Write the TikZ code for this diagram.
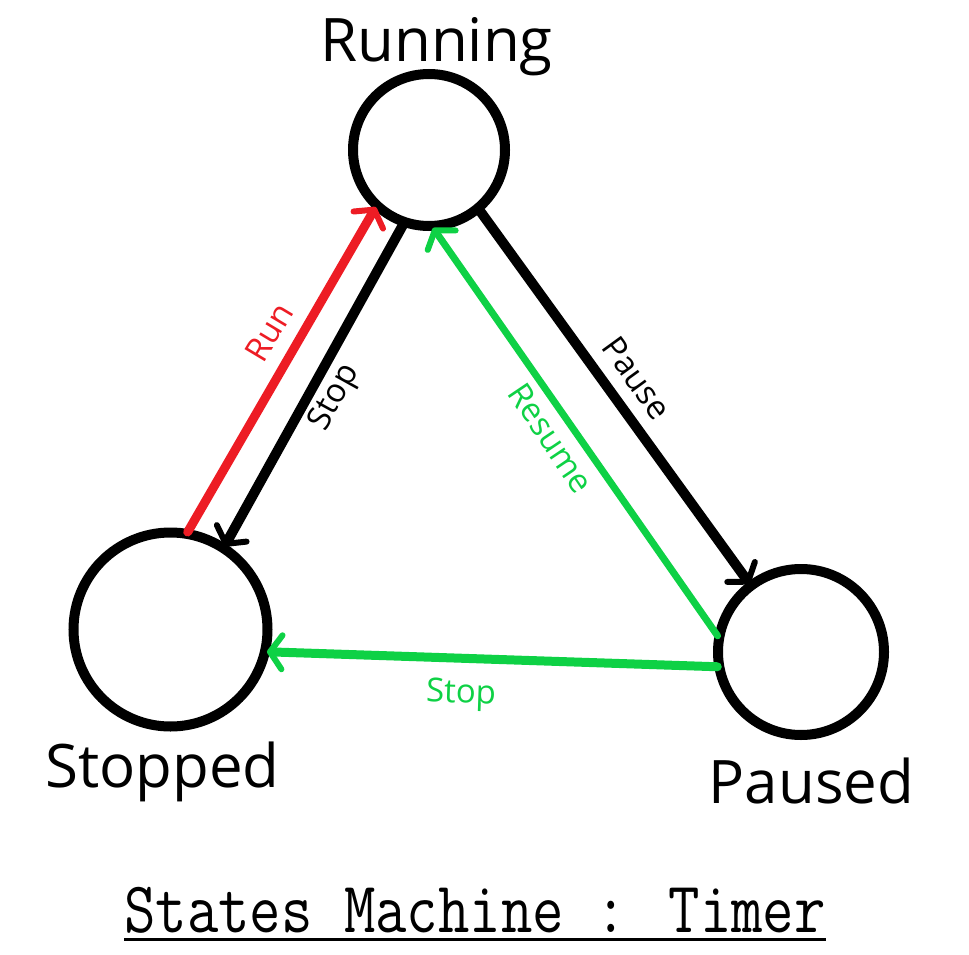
\documentclass[tikz,border=0pt]{standalone}
\usepackage{fontspec}
\setmainfont{Open Sans}
\usepackage{graphicx}
\usetikzlibrary{arrows.meta,calc}
\definecolor{rred}{RGB}{237,28,36}
\definecolor{ggreen}{RGB}{14,209,69}
\begin{document}
\begin{tikzpicture}[x=1pt,y=-1pt,
  state/.style={circle,draw,line width=10pt,inner sep=0pt,outer sep=2pt},
  statename/.style={font=\fontsize{60}{72}\selectfont,anchor=base,inner sep=0pt},
  lbl/.style={font=\fontsize{33}{40}\selectfont,inner sep=0pt},
  tr/.style={line width=#1,line cap=round,-{Straight Barb[length=12pt,width=34pt,line width=6pt,round]}},
]
\useasboundingbox (0,0) rectangle (969,955);
\node[state,minimum size=152pt] (R) at (429,150) {};
\node[state,minimum size=194pt] (S) at (170.5,629.5) {};
\node[state,minimum size=166pt] (P) at (801,652) {};

\draw[tr=9pt,rred] (S.80.4) -- (R.227.6);
\draw[tr=10pt] (R.251) -- (S.57.3);
\draw[tr=10pt] (R.310) -- (P.127.6);
\draw[tr=7pt,ggreen] (P.169.4) -- (R.273);
\draw[tr=9pt,ggreen] (P.190.9) -- (S.-13);

\node[lbl,rred,rotate=59] (lrun) at (269,332) {Run};
\node[lbl,rotate=61] (lstop) at (335,398) {Stop};
\node[lbl,rotate=-54] (lpause) at (637,378) {Pause};
\node[lbl,ggreen,rotate=-56] (lresume) at (551,438) {Resume};
\node[lbl,ggreen,rotate=-2] (lstop2) at (461,695) {Stop};

\node[statename] (tR) at (436.5,62) {Running};
\node[statename] (tS) at (162.5,787) {Stopped};
\node[statename] (tP) at (811.5,803) {Paused};

\node[font=\fontsize{61}{70}\ttfamily,anchor=base,inner sep=0pt] (ttl) at (475,932) {\scalebox{1}[1.19]{States Machine : Timer}};
\draw[line width=3pt] ($(ttl.base west)+(0,7.5)$) -- ($(ttl.base east)+(0,7.5)$);
\end{tikzpicture}
\end{document}
